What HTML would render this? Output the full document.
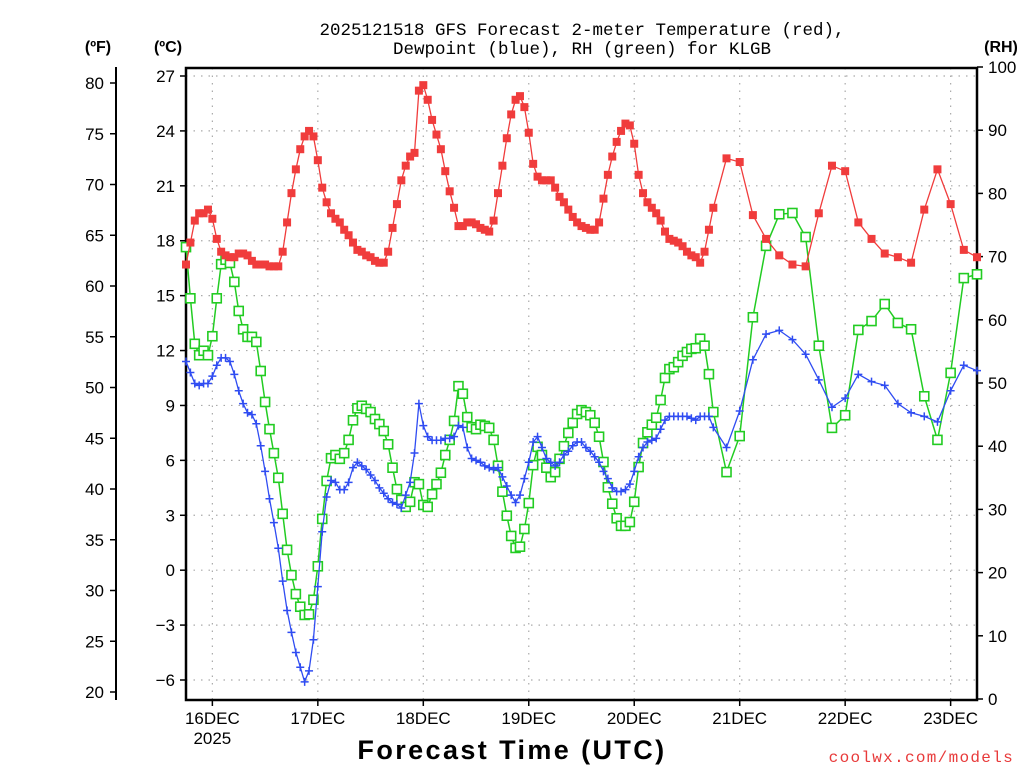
<!DOCTYPE html>
<html><head><meta charset="utf-8"><style>
html,body{margin:0;padding:0;background:#fff;}
svg{display:block;font-family:"Liberation Sans",sans-serif;}
</style></head><body>
<svg id="chart" width="1024" height="768" viewBox="0 0 1024 768">
<text x="582" y="35" text-anchor="middle" font-size="17.5" font-family="Liberation Mono, monospace" fill="#000">2025121518 GFS Forecast 2-meter Temperature (red),</text>
<text x="582" y="54" text-anchor="middle" font-size="17.5" font-family="Liberation Mono, monospace" fill="#000">Dewpoint (blue), RH (green) for KLGB</text>
<text x="98" y="52" text-anchor="middle" font-size="16" font-weight="bold">(ºF)</text>
<text x="168" y="52" text-anchor="middle" font-size="16" font-weight="bold">(ºC)</text>
<text x="1001" y="52" text-anchor="middle" font-size="16" font-weight="bold">(RH)</text>
<text x="512" y="759" text-anchor="middle" font-size="27" font-weight="bold" letter-spacing="2.4">Forecast Time (UTC)</text>
<text x="1014" y="762" text-anchor="end" font-size="16" font-family="Liberation Mono, monospace" fill="#e83a3a" letter-spacing="1.3">coolwx.com/models</text>
<g id="grid"></g>
<g id="axes"></g>
<g id="series"></g>
</svg>
<script>
const dayLabels = ["16DEC","17DEC","18DEC","19DEC","20DEC","21DEC","22DEC","23DEC"];
const celsiusTicks = [27,24,21,18,15,12,9,6,3,0,-3,-6];
const fahrenheitTicks = [80,75,70,65,60,55,50,45,40,35,30,25,20];
const rhTicks = [100,90,80,70,60,50,40,30,20,10,0];
const tempC = [16.7,17.9,19.1,19.5,19.5,19.7,19.2,18.1,17.4,17.2,17.1,17.1,17.3,17.3,17.2,16.9,16.7,16.7,16.7,16.6,16.6,16.6,17.4,19.0,20.6,21.9,23.0,23.7,24.0,23.7,22.4,20.9,20.1,19.5,19.2,19.0,18.6,18.3,17.9,17.5,17.4,17.2,17.1,16.9,16.8,16.8,17.4,18.7,20.0,21.3,
22.1,22.6,22.8,26.2,26.5,25.7,24.6,23.8,23.0,21.8,20.7,19.8,18.8,18.8,19.0,19.0,18.9,18.7,18.6,18.5,19.1,20.6,22.1,23.6,24.9,25.7,25.9,25.3,23.9,22.2,21.5,21.3,21.3,21.3,20.9,20.4,20.1,19.7,19.3,19.0,18.8,18.7,18.6,18.6,19.0,20.3,21.6,22.6,23.4,24.0,24.4,24.3,23.3,21.6,20.6,20.1,19.8,19.5,19.1,18.5,18.1,18.0,17.9,17.7,17.4,17.2,17.1,16.8,17.4,18.6,19.8,
22.5,22.3,19.4,18.1,17.2,16.7,16.6,19.5,22.1,21.8,19.0,18.1,17.3,17.1,16.8,19.7,21.9,20.0,17.5,17.1];
const dewC = [11.4,10.8,10.2,10.1,10.2,10.2,10.6,11.2,11.6,11.6,11.4,10.7,9.8,9.1,8.6,8.5,8.0,6.8,5.4,3.9,2.6,1.2,-0.6,-2.2,-3.4,-4.5,-5.3,-6.1,-5.5,-3.8,-0.9,2.1,4.0,4.9,4.8,4.4,4.4,4.8,5.6,5.9,5.7,5.5,5.2,4.9,4.5,4.2,3.9,3.7,3.6,3.4,
4.1,4.8,6.4,9.1,7.9,7.3,7.1,7.1,7.1,7.2,7.2,7.3,7.9,7.8,6.7,6.1,6.0,5.9,5.7,5.6,5.5,5.6,5.1,4.6,4.1,3.7,4.1,5.0,5.9,7.0,7.3,6.7,6.1,5.9,5.7,5.9,6.3,6.5,6.8,7.0,7.0,6.7,6.5,6.2,5.9,5.4,5.0,4.5,4.3,4.3,4.4,4.7,5.4,6.2,6.7,7.0,7.1,7.2,7.7,8.2,8.4,8.4,8.4,8.4,8.4,8.3,8.2,8.4,8.4,8.4,7.8,
6.7,8.7,11.5,12.9,13.1,12.6,11.8,10.4,8.9,9.4,10.7,10.3,10.1,9.1,8.6,8.4,8.1,9.8,11.2,10.9];
const rhPct = [71.5,63.4,56.2,54.4,55.1,54.4,57.4,63.4,68.8,69.5,69.0,66.0,61.4,58.5,57.3,57.3,56.5,51.9,47.0,42.7,38.9,35.0,29.3,23.6,19.6,16.6,14.6,13.3,13.4,15.7,21.0,28.5,34.5,38.1,38.6,38.0,38.9,41.0,44.1,46.0,46.4,45.9,45.4,44.3,43.5,42.4,40.3,36.6,33.2,31.5,
30.4,31.2,34.3,34.0,30.7,30.4,32.4,34.0,35.8,38.6,41.0,44.0,49.5,48.3,44.6,43.0,42.7,43.4,43.2,42.9,41.0,36.9,32.8,29.0,25.8,23.9,24.1,26.9,31.0,37.0,39.9,38.6,36.6,35.1,35.9,38.0,40.0,42.1,43.7,45.1,45.7,45.4,44.9,43.7,41.5,37.5,33.5,30.9,28.6,27.4,27.4,28.0,31.2,36.7,40.5,42.2,43.4,44.5,47.3,50.8,52.2,52.5,53.3,54.3,54.9,55.4,55.5,57.0,55.9,51.4,45.4,
35.9,41.6,60.4,71.7,76.7,76.9,73.1,55.9,42.9,44.9,58.4,59.8,62.5,59.5,58.5,47.9,41.0,51.6,66.6,67.2];
// forecast hours: hourly to 120h, 3-hourly to 180h
const hours = [];
for (let h = 0; h <= 120; h++) hours.push(h);
for (let h = 123; h <= 180; h += 3) hours.push(h);

const NS = "http://www.w3.org/2000/svg";
const L = 186, R = 977, T = 68, B = 700;
const xH = h => L + (R - L) * h / 180;
const yC = c => 76 + (27 - c) * (604 / 33);
const yF = f => 83 + (80 - f) * (609 / 60);
const yRH = r => 699 - r * 6.32;
function mk(tag, attrs, parent) {
  const e = document.createElementNS(NS, tag);
  for (const k in attrs) e.setAttribute(k, attrs[k]);
  parent.appendChild(e);
  return e;
}
const grid = document.getElementById('grid');
const axes = document.getElementById('axes');
const series = document.getElementById('series');

celsiusTicks.forEach(c => {
  const y = yC(c);
  const g = mk('line', {x1: L, x2: R, y1: y, y2: y, stroke: '#aaa', 'stroke-width': 1.2, 'stroke-dasharray': '1.5 6'}, grid);
  
  
  const t = mk('line', {x1: L - 6, x2: L, y1: y, y2: y, stroke: '#000', 'stroke-width': 1.5}, axes);
  
  
  const lb = mk('text', {x: 175, y: y + 6, 'text-anchor': 'end', 'font-size': 17}, axes);
  lb.textContent = c < 0 ? '\u2212' + Math.abs(c) : String(c);
  
  
});
dayLabels.forEach((d, i) => {
  const x = xH(6 + 24 * i);
  const g = mk('line', {x1: x, x2: x, y1: T, y2: B, stroke: '#aaa', 'stroke-width': 1.2, 'stroke-dasharray': '1.5 6'}, grid);
  
  
  const t = mk('line', {x1: x, x2: x, y1: B, y2: B + 6, stroke: '#000', 'stroke-width': 1.5}, axes);
  
  
  const lb = mk('text', {x: x, y: B + 24, 'text-anchor': 'middle', 'font-size': 17}, axes);
  lb.textContent = d;
  
  
});
const yr = mk('text', {x: xH(6), y: B + 44, 'text-anchor': 'middle', 'font-size': 17}, axes);
yr.textContent = '2025';



const fl = mk('line', {x1: 116, x2: 116, y1: 67, y2: 700, stroke: '#000', 'stroke-width': 2}, axes);


fahrenheitTicks.forEach(f => {
  const y = yF(f);
  const t = mk('line', {x1: 110, x2: 116, y1: y, y2: y, stroke: '#000', 'stroke-width': 1.5}, axes);
  
  
  const lb = mk('text', {x: 104, y: y + 6, 'text-anchor': 'end', 'font-size': 17}, axes);
  lb.textContent = String(f);
  
  
});
rhTicks.forEach(r => {
  const y = yRH(r);
  const t = mk('line', {x1: R, x2: R + 6, y1: y, y2: y, stroke: '#000', 'stroke-width': 1.5}, axes);
  
  
  const lb = mk('text', {x: 988, y: y + 6, 'text-anchor': 'start', 'font-size': 17}, axes);
  lb.textContent = String(r);
  
  
});
const frame = mk('rect', {x: L, y: T, width: R - L, height: B - T, fill: 'none', stroke: '#000', 'stroke-width': 2.5}, axes);



function pts(arr, yf) { return arr.map((v, i) => xH(hours[i]).toFixed(1) + ',' + yf(v).toFixed(1)).join(' '); }

// RH (green)
const rhLine = mk('polyline', {points: pts(rhPct, yRH), fill: 'none', stroke: '#22cc22', 'stroke-width': 1.5}, series);


rhPct.forEach((v, i) => {
  const m = mk('rect', {x: xH(hours[i]) - 4.5, y: yRH(v) - 4.5, width: 9, height: 9, fill: '#fff', stroke: '#22cc22', 'stroke-width': 1.6}, series);
  
  
});
// Dewpoint (blue)
const dLine = mk('polyline', {points: pts(dewC, yC), fill: 'none', stroke: '#2f4cf2', 'stroke-width': 1.3}, series);


dewC.forEach((v, i) => {
  const x = xH(hours[i]), y = yC(v);
  const m = mk('path', {d: `M${x - 4},${y}H${x + 4}M${x},${y - 4}V${y + 4}`, stroke: '#2f4cf2', 'stroke-width': 1.5, fill: 'none'}, series);
  
  
});
// Temperature (red)
const tLine = mk('polyline', {points: pts(tempC, yC), fill: 'none', stroke: '#f03c3c', 'stroke-width': 1.3}, series);


tempC.forEach((v, i) => {
  const m = mk('rect', {x: xH(hours[i]) - 4, y: yC(v) - 4, width: 8, height: 8, fill: '#f03c3c'}, series);
  
  
});
</script>
</body></html>
